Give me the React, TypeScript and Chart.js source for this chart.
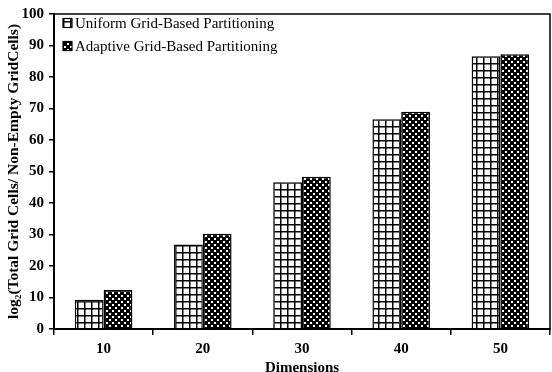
import React, { useEffect, useRef } from "react";
import { Chart, registerables } from "chart.js";

Chart.register(...registerables);

const categories = ["10", "20", "30", "40", "50"];
const uniformValues = [9.3, 26.8, 46.6, 66.6, 86.6];
const adaptiveValues = [12.4, 30.2, 48.3, 69.0, 87.2];
const seriesNames = ["Uniform Grid-Based Partitioning", "Adaptive Grid-Based Partitioning"];
const yTitle = "log\u2082(Total Grid Cells/ Non-Empty GridCells)";
const xTitle = "Dimensions";

function makeGrid(): CanvasPattern | string {
  const c = document.createElement("canvas");
  c.width = 7;
  c.height = 7;
  const g = c.getContext("2d");
  if (!g) return "#fff";
  g.fillStyle = "#fff";
  g.fillRect(0, 0, 7, 7);
  g.fillStyle = "#000";
  g.fillRect(0, 0, 7, 1.5);
  g.fillRect(0, 0, 1.5, 7);
  return g.createPattern(c, "repeat") || "#fff";
}

function makeChecker(): CanvasPattern | string {
  const c = document.createElement("canvas");
  c.width = 6;
  c.height = 6;
  const g = c.getContext("2d");
  if (!g) return "#000";
  g.fillStyle = "#000";
  g.fillRect(0, 0, 6, 6);
  g.fillStyle = "#fff";
  g.fillRect(1, 1, 2, 2);
  g.fillRect(4, 4, 2, 2);
  return g.createPattern(c, "repeat") || "#000";
}

const SERIF = "'Liberation Serif', 'Times New Roman', serif";

export default function App() {
  const ref = useRef<HTMLCanvasElement>(null);
  useEffect(() => {
    document.body.style.margin = "0";
    const canvas = ref.current;
    if (!canvas) return;
    const gridPat = makeGrid();
    const checkPat = makeChecker();
    const fills = [gridPat, checkPat];

    const legendAndFrame = {
      id: "legendAndFrame",
      afterDraw(chart: any) {
        const { ctx, chartArea } = chart;
        ctx.save();
        ctx.strokeStyle = "#000";
        ctx.lineWidth = 1.5;
        ctx.strokeRect(chartArea.left, chartArea.top, chartArea.right - chartArea.left, chartArea.bottom - chartArea.top);
        ctx.font = `15px ${SERIF}`;
        ctx.textBaseline = "middle";
        ctx.fillStyle = "#000";
        const ys = [chartArea.top + 9, chartArea.top + 32];
        seriesNames.forEach((name, i) => {
          const x = chartArea.left + 9;
          const y = ys[i];
          ctx.fillStyle = fills[i];
          ctx.fillRect(x, y - 4.5, 9, 9);
          ctx.lineWidth = 1.2;
          ctx.strokeStyle = "#000";
          ctx.strokeRect(x, y - 4.5, 9, 9);
          ctx.fillStyle = "#000";
          ctx.fillText(name, x + 12, y + 1);
        });
        ctx.restore();
      },
    };

    const chart = new Chart(canvas, {
      type: "bar",
      data: {
        labels: categories,
        datasets: [
          {
            label: seriesNames[0],
            data: uniformValues,
            backgroundColor: gridPat as any,
            borderColor: "#000",
            borderWidth: 1.5,
            categoryPercentage: 0.58,
            barPercentage: 1.0,
          },
          {
            label: seriesNames[1],
            data: adaptiveValues,
            backgroundColor: checkPat as any,
            borderColor: "#000",
            borderWidth: 1.5,
            categoryPercentage: 0.58,
            barPercentage: 1.0,
          },
        ],
      },
      options: {
        responsive: false,
        animation: false,
        layout: { padding: { top: 9, right: 2, left: 0, bottom: 0 } },
        plugins: {
          legend: { display: false },
          tooltip: { enabled: false },
        },
        scales: {
          x: {
            grid: { drawOnChartArea: false, drawTicks: true, tickLength: 6, color: "#000", lineWidth: 1.5, offset: true },
            border: { display: true, color: "#000", width: 2 },
            ticks: { color: "#000", font: { family: SERIF, size: 15, weight: "bold" }, padding: 5 },
            title: { display: true, text: xTitle, color: "#000", font: { family: SERIF, size: 15, weight: "bold" }, padding: { top: 0, bottom: -5 } },
            afterFit(scale: any) {
              scale.height = 43;
            },
          },
          y: {
            min: 0,
            max: 100,
            grid: { drawOnChartArea: false, drawTicks: true, tickLength: 5, color: "#000", lineWidth: 1.5 },
            border: { display: true, color: "#000", width: 2 },
            ticks: { stepSize: 10, color: "#000", font: { family: SERIF, size: 15, weight: "bold" }, padding: 5 },
            title: { display: true, text: yTitle, color: "#000", font: { family: SERIF, size: 15.5, weight: "bold" }, padding: { top: 5, bottom: 0 } },
            afterFit(scale: any) {
              scale.width = 54;
            },
          },
        },
      },
      plugins: [legendAndFrame],
    });
    return () => chart.destroy();
  }, []);
  return (
    <div style={{ position: "absolute", left: 0, top: 0, width: 552, height: 372, background: "#fff" }}>
      <canvas ref={ref} width={552} height={372} />
    </div>
  );
}
